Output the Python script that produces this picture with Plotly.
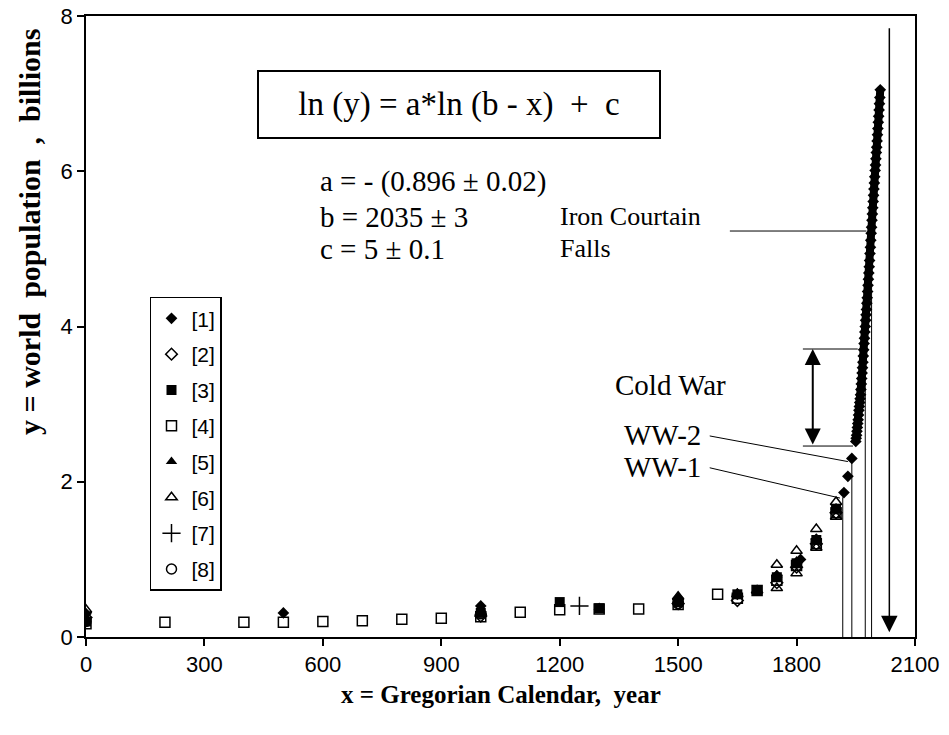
import plotly.graph_objects as go

# ---------------- data ----------------
s1_x = [0, 500, 1000, 1500, 1650, 1750, 1810, 1850, 1900, 1920, 1930, 1940]
s1_y = [0.30, 0.31, 0.40, 0.50, 0.55, 0.79, 1.00, 1.26, 1.65, 1.86, 2.07, 2.30]

# yearly series [1], 1950-2012 (drawn as the thick curve)
s1y_x = [1950, 1951, 1952, 1953, 1954, 1955, 1956, 1957, 1958, 1959,
         1960, 1961, 1962, 1963, 1964, 1965, 1966, 1967, 1968, 1969,
         1970, 1971, 1972, 1973, 1974, 1975, 1976, 1977, 1978, 1979,
         1980, 1981, 1982, 1983, 1984, 1985, 1986, 1987, 1988, 1989,
         1990, 1991, 1992, 1993, 1994, 1995, 1996, 1997, 1998, 1999,
         2000, 2001, 2002, 2003, 2004, 2005, 2006, 2007, 2008, 2009,
         2010, 2011, 2012]
s1y_y = [2.52, 2.56, 2.60, 2.65, 2.70, 2.75, 2.80, 2.86, 2.92, 2.97,
         3.02, 3.07, 3.12, 3.19, 3.26, 3.33, 3.40, 3.47, 3.54, 3.62,
         3.70, 3.78, 3.85, 3.93, 4.00, 4.08, 4.15, 4.22, 4.30, 4.37,
         4.45, 4.53, 4.61, 4.69, 4.77, 4.85, 4.94, 5.02, 5.11, 5.20,
         5.28, 5.37, 5.45, 5.53, 5.61, 5.69, 5.77, 5.85, 5.93, 6.01,
         6.08, 6.16, 6.24, 6.31, 6.39, 6.47, 6.55, 6.63, 6.71, 6.79,
         6.87, 6.95, 7.05]

s2_x = [0, 1000, 1500, 1650, 1750, 1800, 1850, 1900]
s2_y = [0.25, 0.27, 0.43, 0.47, 0.70, 0.90, 1.20, 1.60]

s3_x = [0, 1000, 1200, 1300, 1500, 1650, 1700, 1750, 1800, 1850, 1900]
s3_y = [0.20, 0.31, 0.45, 0.37, 0.45, 0.55, 0.60, 0.77, 0.95, 1.25, 1.65]

s4_x = [0, 200, 400, 500, 600, 700, 800, 900, 1000, 1100, 1200, 1300, 1400,
        1500, 1600, 1650, 1700, 1750, 1800, 1850, 1900]
s4_y = [0.17, 0.19, 0.19, 0.19, 0.20, 0.21, 0.23, 0.24, 0.26, 0.32, 0.35, 0.36, 0.36,
        0.42, 0.55, 0.50, 0.60, 0.73, 0.92, 1.20, 1.60]

s5_x = [0, 1000, 1300, 1500, 1650, 1700, 1750, 1800, 1850, 1900]
s5_y = [0.25, 0.35, 0.38, 0.48, 0.57, 0.60, 0.80, 0.98, 1.26, 1.65]

s6_x = [0, 1000, 1500, 1650, 1700, 1750, 1750, 1800, 1800, 1850, 1850, 1900, 1900]
s6_y = [0.35, 0.32, 0.52, 0.55, 0.60, 0.63, 0.93, 0.82, 1.11, 1.15, 1.39, 1.55, 1.74]

s7_x = [1250]
s7_y = [0.40]

s8_x = [0, 1000, 1500]
s8_y = [0.20, 0.30, 0.43]

labels = ["[1]", "[2]", "[3]", "[4]", "[5]", "[6]", "[7]", "[8]"]
symbols = ["diamond", "diamond-open", "square", "square-open",
           "triangle-up", "triangle-up-open", "cross-thin", "circle-open"]

x_ticks = [0, 300, 600, 900, 1200, 1500, 1800, 2100]
y_ticks = [0, 2, 4, 6, 8]

# annotation geometry (years / billions)
event_years = [1917, 1940, 1974, 1990]
event_tops = [1.80, 2.30, 4.00, 5.28]
b_year = 2035
cold_war_low, cold_war_high = 2.46, 3.71

SERIF = "Liberation Serif"
SANS = "Liberation Sans"

fig = go.Figure()

# thick curve of yearly values for series [1]
fig.add_trace(go.Scatter(
    x=s1y_x, y=s1y_y, mode="lines+markers", showlegend=False, legendgroup="[1]",
    line=dict(color="black", width=8),
    marker=dict(symbol="diamond", size=9, color="black"),
    hoverinfo="skip",
))

series = [(s1_x, s1_y), (s2_x, s2_y), (s3_x, s3_y), (s4_x, s4_y),
          (s5_x, s5_y), (s6_x, s6_y), (s7_x, s7_y), (s8_x, s8_y)]
for i, ((xs, ys), lab, sym) in enumerate(zip(series, labels, symbols)):
    size = 10
    if sym.startswith("diamond"):
        size = 9
    if sym == "cross-thin":
        size = 13
    fig.add_trace(go.Scatter(
        x=xs, y=ys, mode="markers", name=lab, legendgroup=lab,
        marker=dict(symbol=sym, size=size, color="black",
                    line=dict(color="black", width=1.5 if ("open" in sym or "thin" in sym) else 0)),
        hoverinfo="skip",
    ))

shapes = []
for yr, top in zip(event_years, event_tops):
    shapes.append(dict(type="line", xref="x", yref="y", x0=yr, x1=yr, y0=0, y1=top,
                       line=dict(color="black", width=1)))
shapes.append(dict(type="line", xref="x", yref="y", x0=1631, x1=1977, y0=5.23, y1=5.23,
                   line=dict(color="black", width=1)))
shapes.append(dict(type="line", xref="x", yref="y", x0=1816, x1=1955, y0=cold_war_high, y1=cold_war_high,
                   line=dict(color="black", width=1)))
shapes.append(dict(type="line", xref="x", yref="y", x0=1816, x1=1943, y0=cold_war_low, y1=cold_war_low,
                   line=dict(color="black", width=1)))
shapes.append(dict(type="line", xref="x", yref="y", x0=1580, x1=1930, y0=2.59, y1=2.26,
                   line=dict(color="black", width=1)))
shapes.append(dict(type="line", xref="x", yref="y", x0=1580, x1=1910, y0=2.18, y1=1.79,
                   line=dict(color="black", width=1)))

annotations = []
annotations.append(dict(x=b_year, y=0.06, ax=b_year, ay=7.86, xref="x", yref="y",
                        axref="x", ayref="y", showarrow=True, arrowhead=2,
                        arrowsize=2.2, arrowwidth=1.5, arrowcolor="black", text=""))
annotations.append(dict(x=1841, y=cold_war_high, ax=1841, ay=cold_war_low, xref="x", yref="y",
                        axref="x", ayref="y", showarrow=True, arrowhead=2, startarrowhead=2,
                        arrowside="end+start", arrowsize=1.6, startarrowsize=1.6,
                        arrowwidth=2, arrowcolor="black", text=""))

NB = "\u00a0"
annotations.append(dict(xref="paper", yref="paper", x=0.45, y=0.8575, showarrow=False,
                        text=f"ln (y) = a*ln (b - x){NB}{NB}+{NB}{NB}c",
                        font=dict(family=SERIF, size=33, color="black"),
                        bordercolor="black", borderwidth=2, width=398, height=63,
                        bgcolor="white", xanchor="center", yanchor="middle"))

def txt(xp, yp, s, size=29):
    return dict(xref="paper", yref="paper", x=xp, y=yp, text=s, showarrow=False,
                xanchor="left", yanchor="middle",
                font=dict(family=SERIF, size=size, color="black"))

annotations += [
    txt(0.2799, 0.734, "a = - (0.896 \u00b1 0.02)"),
    txt(0.2799, 0.677, "b = 2035 \u00b1 3"),
    txt(0.2799, 0.625, "c = 5 \u00b1 0.1"),
    txt(0.5694, 0.677, "Iron Courtain", 26),
    txt(0.5694, 0.625, "Falls", 26),
    txt(0.6357, 0.406, "Cold War", 29),
    txt(0.6466, 0.326, "WW-2", 29),
    txt(0.6466, 0.274, "WW-1", 29),
]

annotations.append(dict(xref="paper", yref="paper", x=-0.069, y=0.652, textangle=-90,
                        text="y = world  population  ,  billions".replace("  ", NB + NB),
                        showarrow=False, xanchor="center", yanchor="middle",
                        font=dict(family=SERIF, size=30, color="black", weight="bold")))
annotations.append(dict(xref="paper", yref="paper", x=0.5, y=-0.0925,
                        text="x = Gregorian Calendar,  year".replace("  ", NB + NB),
                        showarrow=False, xanchor="center", yanchor="middle",
                        font=dict(family=SERIF, size=25, color="black", weight="bold")))

fig.update_layout(
    width=949, height=735, autosize=False,
    margin=dict(l=86, r=34, t=16, b=98),
    paper_bgcolor="white", plot_bgcolor="white",
    shapes=shapes, annotations=annotations,
    showlegend=True,
    legend=dict(x=0.0772, y=0.548, xanchor="left", yanchor="top",
                bgcolor="white", bordercolor="black", borderwidth=1.5,
                font=dict(family=SANS, size=21, color="black"),
                tracegroupgap=5.5, itemwidth=30, traceorder="grouped"),
    xaxis=dict(range=[0, 2100], tickvals=x_ticks, ticktext=[str(v) for v in x_ticks],
               showline=True, linecolor="black", linewidth=1.5, mirror=True,
               ticks="outside", ticklen=7, tickwidth=1.5, tickcolor="black",
               showgrid=False, zeroline=False, automargin=False,
               tickfont=dict(family=SANS, size=22, color="black")),
    yaxis=dict(range=[0, 8], tickvals=y_ticks, ticktext=[str(v) for v in y_ticks],
               showline=True, linecolor="black", linewidth=1.5, mirror=True,
               ticks="outside", ticklen=7, tickwidth=1.5, tickcolor="black",
               showgrid=False, zeroline=False, automargin=False,
               tickfont=dict(family=SANS, size=22, color="black")),
)

fig.write_html("out.html")
